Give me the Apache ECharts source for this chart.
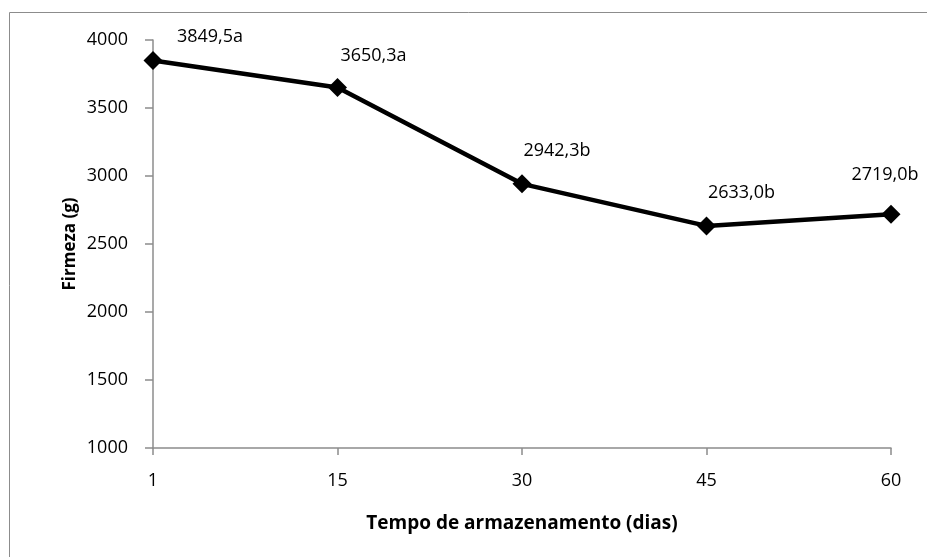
<!DOCTYPE html>
<html>
<head>
<meta charset="utf-8">
<script src="https://cdn.jsdelivr.net/npm/echarts@6/dist/echarts.min.js"></script>
<style>
  html, body { margin: 0; padding: 0; background: #fff; }
  #chart { width: 927px; height: 557px; }
</style>
</head>
<body>
<div id="chart"></div>
<script>
// Storage time (days) and measured firmness (g)
const days = ['1', '15', '30', '45', '60'];
const firmness = [3849.5, 3650.3, 2942.3, 2633.0, 2719.0];
const letters = ['a', 'a', 'b', 'b', 'b'];
const yTicks = [1000, 1500, 2000, 2500, 3000, 3500, 4000];

// Label nudges relative to each marker centre (px)
const labelOffsets = [[57, -24], [36, -32], [35, -33], [35, -33], [-6, -39]];

const FONT = '"Open Sans", Lato, sans-serif';

const fmt = v => v.toFixed(1).replace('.', ',');

const chart = echarts.init(document.getElementById('chart'), null, { renderer: 'canvas' });

chart.setOption({
  animation: false,
  backgroundColor: '#fff',
  graphic: [{
    type: 'rect',
    shape: { x: 9.5, y: 12.5, width: 1000, height: 1000 },
    style: { fill: 'none', stroke: '#8c8c8c', lineWidth: 1 },
    silent: true
  }],
  grid: { left: 153, right: 36, top: 40, bottom: 109 },
  xAxis: {
    type: 'category',
    data: days,
    boundaryGap: false,
    axisLine: { lineStyle: { color: '#8c8c8c', width: 1.5 } },
    axisTick: { alignWithLabel: true, length: 7, lineStyle: { color: '#8c8c8c', width: 1.5 } },
    axisLabel: { color: '#000', fontFamily: FONT, fontSize: 18, margin: 24 },
    splitLine: { show: false },
    name: 'Tempo de armazenamento (dias)',
    nameLocation: 'middle',
    nameGap: 66,
    nameMoveOverlap: false,
    nameTextStyle: { color: '#000', fontFamily: FONT, fontSize: 19, fontWeight: 'bold' }
  },
  yAxis: {
    type: 'value',
    min: yTicks[0],
    max: yTicks[yTicks.length - 1],
    interval: 500,
    axisLine: { show: true, lineStyle: { color: '#8c8c8c', width: 1.5 } },
    axisTick: { show: true, length: 8, lineStyle: { color: '#8c8c8c', width: 1.5 } },
    axisLabel: { color: '#000', fontFamily: FONT, fontSize: 18, margin: 25, formatter: v => String(v) },
    splitLine: { show: false },
    name: 'Firmeza (g)',
    nameLocation: 'middle',
    nameGap: 74,
    nameRotate: 90,
    nameMoveOverlap: false,
    nameTextStyle: { color: '#000', fontFamily: FONT, fontSize: 17, fontWeight: 'bold' }
  },
  series: [{
    type: 'line',
    data: firmness.map((v, i) => ({
      value: v,
      label: { offset: labelOffsets[i] }
    })),
    symbol: 'diamond',
    symbolSize: [19, 19],
    lineStyle: { color: '#000', width: 4.5 },
    itemStyle: { color: '#000' },
    label: {
      show: true,
      position: 'inside',
      color: '#000',
      fontFamily: FONT,
      fontSize: 18,
      formatter: p => fmt(p.value) + letters[p.dataIndex]
    }
  }]
});
</script>
</body>
</html>
